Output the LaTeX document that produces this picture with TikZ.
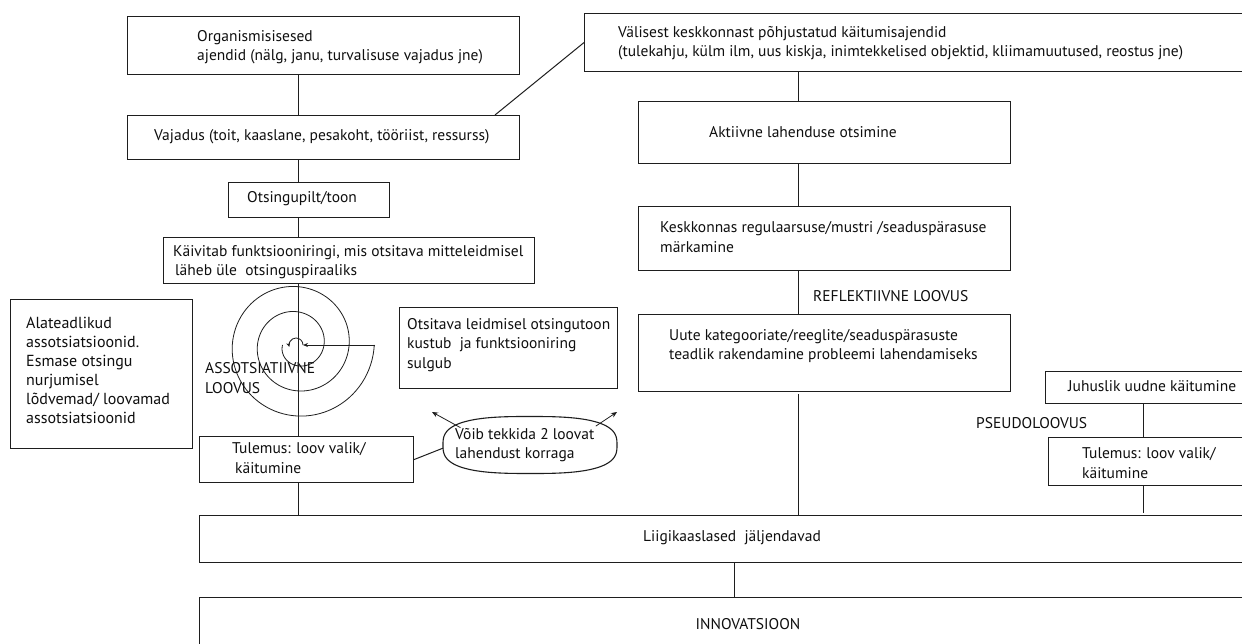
\documentclass[tikz,border=0pt]{standalone}
\usepackage{fontspec}
\setmainfont{PT Sans}
\usetikzlibrary{arrows.meta,shapes.geometric}

\definecolor{linec}{RGB}{30,30,30}
\definecolor{textc}{RGB}{15,15,15}

\newcommand{\dfont}{\fontsize{15.5}{19.5}\selectfont}
\newcommand{\bigfont}{\fontsize{16}{19}\selectfont}

\tikzset{
  box/.style={draw=linec, line width=1.1pt, rectangle, inner sep=0pt, anchor=north west},
  txt/.style={anchor=west, align=left, inner sep=0pt, font=\dfont, text=textc},
  link/.style={draw=linec, line width=1pt},
  tip/.style={-{Stealth[length=6pt,width=5pt]}},
}

\begin{document}
\begin{tikzpicture}[x=1pt,y=-1pt]
\useasboundingbox (0,0) rectangle (1242,644);
\clip (0,0) rectangle (1242,644);
\fill[white] (0,0) rectangle (1242,644);

% spines for the vertical connectors
\coordinate (spL) at (298,0);
\coordinate (spR) at (798,0);
\coordinate (spP) at (1143,0);
\coordinate (spI) at (734,0);

% ---------- left column ----------
\node[box, minimum width=392pt, minimum height=58pt] (org) at (127,16) {};
\node[txt] (orgT) at (197,47) {Organismisisesed\\ajendid (nälg, janu, turvalisuse vajadus jne)};

\node[box, minimum width=392pt, minimum height=44pt] (vaj) at (127,115) {};
\node[txt] (vajT) at (154,137) {Vajadus (toit, kaaslane, pesakoht, tööriist, ressurss)};

\node[box, minimum width=161pt, minimum height=35pt] (ots) at (228,182) {};
\node[txt] (otsT) at (247,199) {Otsingupilt/toon};

\node[box, minimum width=371pt, minimum height=46pt] (kai) at (163,237) {};
\node[txt] (kaiT) at (173,262) {Käivitab funktsiooniringi, mis otsitava mitteleidmisel\\\hspace{2pt}läheb üle\ \ otsinguspiraaliks};

\node[box, minimum width=182pt, minimum height=149pt] (ala) at (10,299) {};
\node[txt, font=\bigfont] (alaT) at (26,370) {Alateadlikud\\assotsiatsioonid.\\Esmase otsingu\\nurjumisel\\lõdvemad/ loovamad\\assotsiatsioonid};

\node[box, minimum width=218pt, minimum height=81pt] (otsl) at (399,307) {};
\node[txt] (otslT) at (407,345) {Otsitava leidmisel otsingutoon\\kustub\ \ ja funktsiooniring\\sulgub};

\node[box, minimum width=214pt, minimum height=46pt] (tul1) at (199,436) {};
\node[txt] (tul1T) at (232,458) {Tulemus: loov valik/\\\hspace{3pt}käitumine};

% bubble: invisible ellipse for anchors, superellipse outline drawn below
\node[ellipse, minimum width=174pt, minimum height=57pt, inner sep=0pt] (voib) at (530,445) {};
\draw[draw=linec, line width=1.1pt] plot[domain=1:361, samples=121, variable=\t]
  ({530+87*pow(abs(cos(\t)),0.7)*cos(\t)/abs(cos(\t))},
   {445-28.5*pow(abs(sin(\t)),0.7)*sin(\t)/abs(sin(\t))}) -- cycle;
\node[txt] (voibT) at (455,445) {Võib tekkida 2 loovat\\lahendust korraga};

% search spiral
\draw[draw=linec, line width=0.8pt] plot[domain=-180:720, samples=240, variable=\t]
  ({297+(27+4*\t*pi/180)*cos(\t)}, {345-(27+4*\t*pi/180)*sin(\t)});
\draw[draw=linec, line width=0.8pt, -{Stealth[length=4pt,width=4pt]}] (303,345) arc[start angle=0, end angle=-195, radius=7];
\coordinate (spOut) at (375,345);
\coordinate (spIn) at (303,345);
\draw[draw=linec, line width=0.8pt, -{Stealth[length=5pt,width=4pt]}] (spOut) -- (spIn);

\node[txt] (assT) at (205,378) {ASSOTSIATIIVNE\\LOOVUS};

% ---------- right column ----------
\node[box, minimum width=700pt, minimum height=58pt] (val) at (584,13) {};
\node[txt] (valT) at (618,43) {Välisest keskkonnast põhjustatud käitumisajendid\\(tulekahju, külm ilm, uus kiskja, inimtekkelised objektid, kliimamuutused, reostus jne)};

\node[box, minimum width=372pt, minimum height=62pt] (akt) at (638,101) {};
\node[txt] (aktT) at (709,132) {Aktiivne lahenduse otsimine};

\node[box, minimum width=372pt, minimum height=64pt] (kes) at (638,206) {};
\node[txt] (kesT) at (660,237) {Keskkonnas regulaarsuse/mustri /seaduspärasuse\\märkamine};

\node[box, minimum width=372pt, minimum height=77pt] (uut) at (638,314) {};
\node[txt] (uutT) at (669,346) {Uute kategooriate/reeglite/seaduspärasuste\\teadlik rakendamine probleemi lahendamiseks};

\node[txt] (refT) at (813,296) {REFLEKTIIVNE LOOVUS};

\node[box, minimum width=240pt, minimum height=32pt] (juh) at (1045,371) {};
\node[txt] (juhT) at (1068,386) {Juhuslik uudne käitumine};

\node[txt] (pseT) at (976,423) {PSEUDOLOOVUS};

\node[box, minimum width=240pt, minimum height=48pt] (tul2) at (1048,437) {};
\node[txt] (tul2T) at (1082,463) {Tulemus: loov valik/\\käitumine};

% ---------- bottom bands ----------
\node[box, minimum width=1100pt, minimum height=47pt] (liig) at (199,515) {};
\node[txt] (liigT) at (643,538) {Liigikaaslased\ \ jäljendavad};

\node[box, minimum width=1100pt, minimum height=120pt] (inno) at (199,597) {};
\node[txt, anchor=center] (innoT) at (748,624) {INNOVATSIOON};

% ---------- connectors ----------
\draw[link] (org.south -| spL) -- (vaj.north -| spL);
\draw[link] (vaj.south -| spL) -- (ots.north -| spL);
\draw[link] (ots.south -| spL) -- (kai.north -| spL);
\draw[link] (kai.south -| spL) -- (tul1.north -| spL);
\draw[link] (tul1.south -| spL) -- (liig.north -| spL);
\coordinate (vajTop) at (495,115);
\draw[link] (vajTop) -- (val.west);
\draw[link] (tul1.east) -- (voib.182);
\coordinate (arL) at (432,412);
\coordinate (arR) at (617,412);
\draw[link, line width=0.8pt, tip] (voib.166) -- (arL);
\draw[link, line width=0.8pt, tip] (voib.16) -- (arR);

\draw[link] (val.south -| spR) -- (akt.north -| spR);
\draw[link] (akt.south -| spR) -- (kes.north -| spR);
\draw[link] (kes.south -| spR) -- (uut.north -| spR);
\draw[link, shorten <=2pt] (uut.south -| spR) -- (liig.north -| spR);

\draw[link] (juh.south -| spP) -- (tul2.north -| spP);
\draw[link, shorten >=2pt] (tul2.south -| spP) -- (liig.north -| spP);

\draw[link] (liig.south -| spI) -- (inno.north -| spI);
\end{tikzpicture}
\end{document}
